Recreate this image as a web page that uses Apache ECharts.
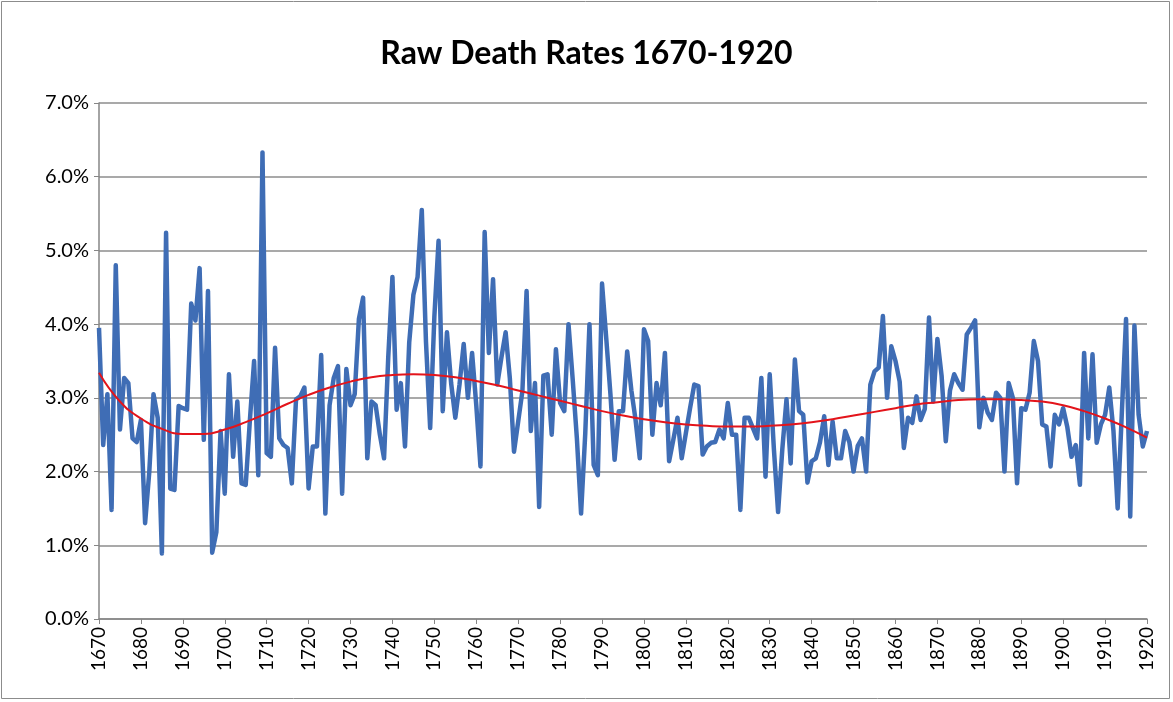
<!DOCTYPE html>
<html lang="en">
<head>
    <meta charset="UTF-8">
    <title>Raw Death Rates</title>
    <script src="https://cdn.jsdelivr.net/npm/echarts@6/dist/echarts.min.js"></script>
    <style>
        html, body { margin: 0; padding: 0; background: #fff; }
        #main { width: 1173px; height: 702px; }
    </style>
</head>
<body>
<div id="main"></div>
<script type="text/javascript">
    // yearly raw death rate in %, one value per year starting 1670
    var startYear = 1670;
    var deathRates = [
        3.95, 2.36, 3.05, 1.48, 4.80, 2.57, 3.27, 3.20, 2.45, 2.40,
        2.70, 1.30, 2.00, 3.05, 2.73, 0.89, 5.24, 1.77, 1.75, 2.89,
        2.86, 2.84, 4.28, 4.05, 4.76, 2.43, 4.45, 0.90, 1.18, 2.55,
        1.70, 3.32, 2.20, 2.95, 1.84, 1.82, 2.70, 3.50, 1.95, 6.33,
        2.25, 2.20, 3.68, 2.45, 2.36, 2.32, 1.84, 2.98, 3.02, 3.14,
        1.77, 2.34, 2.34, 3.58, 1.43, 2.90, 3.27, 3.43, 1.70, 3.39,
        2.90, 3.05, 4.07, 4.36, 2.18, 2.95, 2.90, 2.50, 2.18, 3.55,
        4.64, 2.84, 3.20, 2.34, 3.75, 4.40, 4.64, 5.55, 3.76, 2.59,
        4.10, 5.13, 2.82, 3.89, 3.20, 2.73, 3.18, 3.73, 3.00, 3.61,
        2.90, 2.07, 5.25, 3.61, 4.61, 3.18, 3.55, 3.89, 3.27, 2.27,
        2.68, 3.09, 4.45, 2.55, 3.20, 1.52, 3.30, 3.32, 2.50, 3.66,
        2.93, 2.82, 4.00, 3.25, 2.45, 1.43, 2.52, 4.00, 2.09, 1.95,
        4.55, 3.81, 3.05, 2.16, 2.82, 2.82, 3.63, 3.10, 2.70, 2.18,
        3.93, 3.77, 2.50, 3.20, 2.90, 3.61, 2.14, 2.43, 2.73, 2.18,
        2.52, 2.86, 3.18, 3.16, 2.23, 2.34, 2.39, 2.40, 2.57, 2.45,
        2.93, 2.50, 2.50, 1.48, 2.73, 2.73, 2.59, 2.45, 3.27, 1.93,
        3.32, 2.30, 1.45, 2.30, 2.98, 2.11, 3.52, 2.82, 2.77, 1.85,
        2.14, 2.18, 2.40, 2.75, 2.09, 2.68, 2.18, 2.18, 2.55, 2.40,
        2.00, 2.35, 2.45, 2.00, 3.18, 3.36, 3.41, 4.11, 3.00, 3.70,
        3.50, 3.22, 2.32, 2.73, 2.66, 3.02, 2.70, 2.85, 4.09, 2.95,
        3.80, 3.30, 2.41, 3.10, 3.32, 3.20, 3.11, 3.86, 3.95, 4.05,
        2.60, 3.00, 2.80, 2.70, 3.07, 3.00, 2.00, 3.20, 3.00, 1.84,
        2.86, 2.84, 3.07, 3.77, 3.50, 2.64, 2.61, 2.07, 2.77, 2.64,
        2.86, 2.60, 2.20, 2.36, 1.82, 3.61, 2.45, 3.59, 2.39, 2.64,
        2.77, 3.14, 2.55, 1.50, 2.80, 4.07, 1.39, 3.98, 2.77, 2.34,
        2.55
    ];

    // trend line read every 5 years
    var trendYears = [1670, 1675, 1680, 1685, 1690, 1695, 1700, 1705, 1710, 1715,
        1720, 1725, 1730, 1735, 1740, 1745, 1750, 1755, 1760, 1765,
        1770, 1775, 1780, 1785, 1790, 1795, 1800, 1805, 1810, 1815,
        1820, 1825, 1830, 1835, 1840, 1845, 1850, 1855, 1860, 1865,
        1870, 1875, 1880, 1885, 1890, 1895, 1900, 1905, 1910, 1915, 1920];
    var trendRates = [3.34, 2.95, 2.72, 2.58, 2.51, 2.51, 2.57, 2.67, 2.79, 2.92,
        3.04, 3.14, 3.22, 3.28, 3.31, 3.32, 3.31, 3.28, 3.23, 3.17,
        3.10, 3.03, 2.96, 2.89, 2.82, 2.76, 2.71, 2.67, 2.64, 2.62,
        2.61, 2.61, 2.62, 2.64, 2.67, 2.71, 2.76, 2.81, 2.86, 2.91,
        2.94, 2.97, 2.98, 2.98, 2.97, 2.95, 2.90, 2.82, 2.72, 2.60, 2.46];

    var rateData = [];
    for (var i = 0; i < deathRates.length; i++) {
        rateData.push([startYear + i, deathRates[i]]);
    }
    var trendData = [];
    for (var j = 0; j < trendYears.length; j++) {
        trendData.push([trendYears[j], trendRates[j]]);
    }

    var myChart = echarts.init(document.getElementById("main"));

    var option = {
        backgroundColor: '#fff',
        animation: false,
        title: {
            text: 'Raw Death Rates 1670-1920',
            left: 'center',
            top: 33,
            textStyle: {
                fontFamily: 'Lato',
                fontWeight: 'bold',
                fontSize: 32,
                color: '#000'
            }
        },
        graphic: [{
            type: 'rect',
            shape: { x: 1.5, y: 1.5, width: 1168, height: 697 },
            style: { fill: null, stroke: '#8c8c8c', lineWidth: 1 }
        }],
        grid: {
            left: 99,
            right: 26,
            top: 103,
            bottom: 83
        },
        xAxis: {
            type: 'value',
            min: 1670,
            max: 1920,
            interval: 10,
            axisLine: { lineStyle: { color: '#868686', width: 1.5 } },
            axisTick: { show: true, length: 5, lineStyle: { color: '#868686' } },
            splitLine: { show: false },
            axisLabel: {
                rotate: 90,
                color: '#000',
                fontFamily: 'Lato',
                fontSize: 19,
                margin: 8,
                formatter: function (v) { return String(v); }
            }
        },
        yAxis: {
            type: 'value',
            min: 0,
            max: 7,
            interval: 1,
            axisLine: { show: true, lineStyle: { color: '#868686', width: 1.5 } },
            axisTick: { show: true, length: 5, lineStyle: { color: '#868686' } },
            splitLine: { lineStyle: { color: '#8c8c8c', width: 1.5 } },
            axisLabel: {
                color: '#000',
                fontFamily: 'Lato',
                fontSize: 20,
                margin: 10,
                formatter: function (v) { return v.toFixed(1) + '%'; }
            }
        },
        series: [{
            name: 'Death rate',
            type: 'line',
            data: rateData,
            showSymbol: false,
            lineStyle: { color: '#3f6db5', width: 4.5, join: 'round' },
            z: 2
        }, {
            name: 'Trend',
            type: 'line',
            data: trendData,
            smooth: true,
            showSymbol: false,
            lineStyle: { color: '#e3141b', width: 2 },
            z: 3
        }]
    };
    myChart.setOption(option);
</script>
</body>
</html>
